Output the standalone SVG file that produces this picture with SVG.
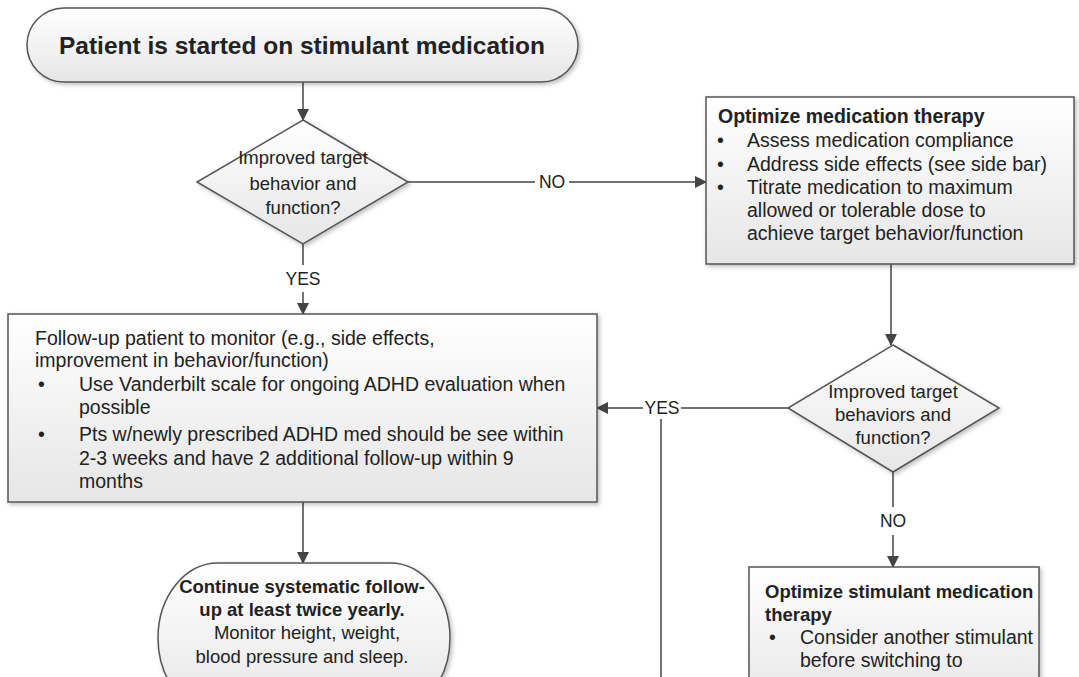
<svg xmlns="http://www.w3.org/2000/svg" width="1079" height="677" viewBox="0 0 1079 677">
<style>
.shape{stroke:#555;stroke-width:1.5;fill:url(#g)}
.t{font-family:"Liberation Sans",Arial,sans-serif;font-size:19.5px;fill:#222}
.b{font-weight:bold}
.c{text-anchor:middle}
.d{font-size:18.5px}
.lb{font-size:17.5px}
.ln{stroke:#444;stroke-width:1.5;fill:none}
</style>
<defs>
<linearGradient id="g" x1="0" y1="0" x2="0" y2="1">
<stop offset="0" stop-color="#ffffff"/>
<stop offset="1" stop-color="#e6e6e6"/>
</linearGradient>
<filter id="sh" x="-5%" y="-5%" width="115%" height="120%">
<feDropShadow dx="2" dy="2" stdDeviation="2" flood-color="#000" flood-opacity="0.25"/>
</filter>
<marker id="ah" markerWidth="12" markerHeight="12" refX="11" refY="6" orient="auto" markerUnits="userSpaceOnUse">
<path d="M0,0 L12,6 L0,12 Z" fill="#444"/>
</marker>
</defs>
<rect width="1079" height="677" fill="#ffffff"/>

<g id="connectors">
<line class="ln" x1="303" y1="82" x2="303" y2="120" marker-end="url(#ah)"/>
<line class="ln" x1="408" y1="182" x2="535" y2="182"/>
<text class="t c lb" x="552" y="188">NO</text>
<line class="ln" x1="569" y1="182" x2="706" y2="182" marker-end="url(#ah)"/>
<line class="ln" x1="303" y1="244" x2="303" y2="265"/>
<text class="t c lb" x="303" y="285">YES</text>
<line class="ln" x1="303" y1="292" x2="303" y2="314" marker-end="url(#ah)"/>
<line class="ln" x1="891" y1="264" x2="891" y2="345" marker-end="url(#ah)"/>
<line class="ln" x1="788" y1="408" x2="681" y2="408"/>
<text class="t c lb" x="662" y="414">YES</text>
<line class="ln" x1="643" y1="408" x2="597" y2="408" marker-end="url(#ah)"/>
<line class="ln" x1="661" y1="419" x2="661" y2="677"/>
<line class="ln" x1="893" y1="472" x2="893" y2="507"/>
<text class="t c lb" x="893" y="527">NO</text>
<line class="ln" x1="893" y1="535" x2="893" y2="567" marker-end="url(#ah)"/>
<line class="ln" x1="303" y1="502" x2="303" y2="563" marker-end="url(#ah)"/>
</g>

<g id="start">
<rect class="shape" filter="url(#sh)" x="27" y="8" width="551" height="74" rx="37" ry="37"/>
<text class="t b c" x="302" y="54" style="font-size:24.5px">Patient is started on stimulant medication</text>
</g>

<g id="decision1">
<polygon class="shape" filter="url(#sh)" points="303,120 408,182 303,244 197,182"/>
<text class="t c d" x="303" y="164">Improved target</text>
<text class="t c d" x="303" y="190">behavior and</text>
<text class="t c d" x="303" y="214">function?</text>
</g>

<g id="optimize-med">
<rect class="shape" filter="url(#sh)" x="706" y="97" width="368" height="167"/>
<text class="t b" x="718" y="123">Optimize medication therapy</text>
<text class="t" x="717" y="147">•</text>
<text class="t" x="747" y="147">Assess medication compliance</text>
<text class="t" x="717" y="171">•</text>
<text class="t" x="747" y="171">Address side effects (see side bar)</text>
<text class="t" x="717" y="194">•</text>
<text class="t" x="747" y="194">Titrate medication to maximum</text>
<text class="t" x="747" y="217">allowed or tolerable dose to</text>
<text class="t" x="747" y="240">achieve target behavior/function</text>
</g>

<g id="decision2">
<polygon class="shape" filter="url(#sh)" points="893,345 999,408 893,472 788,408"/>
<text class="t c d" x="893" y="398">Improved target</text>
<text class="t c d" x="893" y="421">behaviors and</text>
<text class="t c d" x="893" y="444">function?</text>
</g>

<g id="followup">
<rect class="shape" filter="url(#sh)" x="8" y="314" width="589" height="188"/>
<text class="t" x="35" y="345">Follow-up patient to monitor (e.g., side effects,</text>
<text class="t" x="35" y="367">improvement in behavior/function)</text>
<text class="t" x="38" y="391">•</text>
<text class="t" x="79" y="391">Use Vanderbilt scale for ongoing ADHD evaluation when</text>
<text class="t" x="79" y="414">possible</text>
<text class="t" x="38" y="441">•</text>
<text class="t" x="79" y="441">Pts w/newly prescribed ADHD med should be see within</text>
<text class="t" x="79" y="465">2-3 weeks and have 2 additional follow-up within 9</text>
<text class="t" x="79" y="488">months</text>
</g>

<g id="continue">
<rect class="shape" filter="url(#sh)" x="158" y="563" width="292" height="150" rx="60" ry="75"/>
<text class="t b c d" x="302" y="593">Continue systematic follow-</text>
<text class="t b c d" x="302" y="616">up at least twice yearly.</text>
<text class="t c d" x="307" y="639">Monitor height, weight,</text>
<text class="t c d" x="302" y="663">blood pressure and sleep.</text>
</g>

<g id="optimize-stim">
<rect class="shape" filter="url(#sh)" x="749" y="567" width="290" height="140"/>
<text class="t b d" x="765" y="598">Optimize stimulant medication</text>
<text class="t b d" x="765" y="621">therapy</text>
<text class="t" x="769" y="644">•</text>
<text class="t" x="800" y="644">Consider another stimulant</text>
<text class="t" x="800" y="667">before switching to</text>
</g>
</svg>
